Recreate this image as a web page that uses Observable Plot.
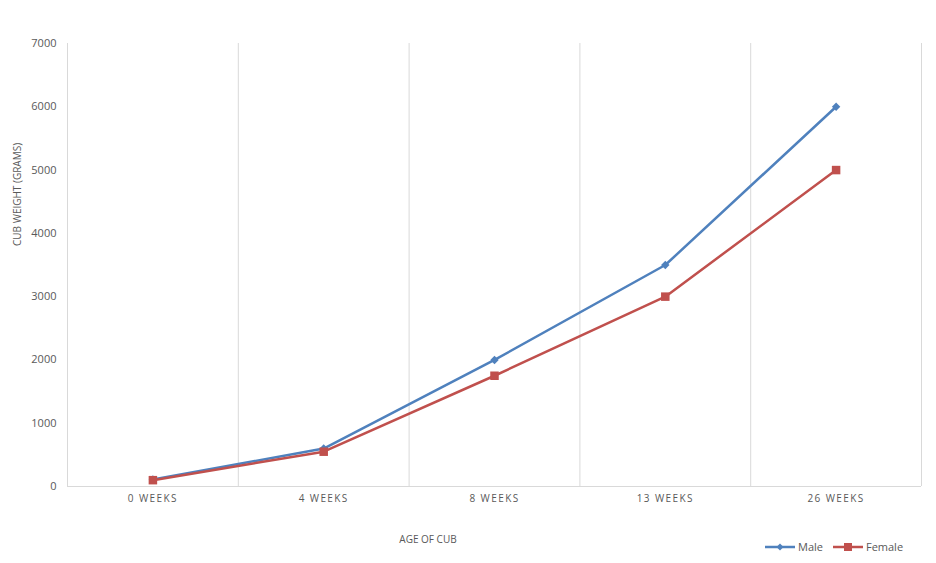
<!DOCTYPE html>
<html>
<head>
<meta charset="utf-8">
<script src="https://cdn.jsdelivr.net/npm/d3@7"></script>
<script src="https://cdn.jsdelivr.net/npm/@observablehq/plot@0.6"></script>
<style>
  body { margin: 0; background: #fff; font-family: "Open Sans", sans-serif; }
  #chart { position: relative; width: 936px; }
  g[aria-label="x-axis tick label"] text { letter-spacing: 1.4px; }
  #below { position: relative; width: 936px; height: 43px; color: #595959; }
  #xtitle { position: absolute; left: 428px; top: 12px; transform: translateX(-50%); font-size: 10px; }
  #legend { position: absolute; left: 765px; top: 19px; display: flex; align-items: center; font-size: 11px; }
  #legend span.item { display: flex; align-items: center; margin-right: 10px; }
  #legend svg { margin-right: 3px; }
</style>
</head>
<body>
<div id="chart"></div>
<div id="below">
  <div id="xtitle">AGE OF CUB</div>
  <div id="legend"></div>
</div>
<script>
const categories = ["0 WEEKS", "4 WEEKS", "8 WEEKS", "13 WEEKS", "26 WEEKS"];
const male = [110, 600, 2000, 3500, 6000];
const female = [100, 550, 1750, 3000, 5000];
const yTicks = [0, 1000, 2000, 3000, 4000, 5000, 6000, 7000];
const seriesNames = ["Male", "Female"];
const seriesColors = ["#4F81BD", "#C0504D"];
const seriesSymbols = ["diamond2", "square"];

const rows = [];
categories.forEach((c, i) => {
  rows.push({series: "Male", i, value: male[i]});
  rows.push({series: "Female", i, value: female[i]});
});
const boundaries = d3.range(categories.length + 1).map(k => k - 0.5);
const gray = "#595959";

const plot = Plot.plot({
  width: 936,
  height: 520,
  marginLeft: 67,
  marginRight: 15,
  marginTop: 43,
  marginBottom: 34,
  style: {fontFamily: "Open Sans, sans-serif", color: gray, background: "#fff"},
  x: {type: "linear", domain: [-0.5, categories.length - 0.5]},
  y: {domain: [0, 7000]},
  color: {domain: seriesNames, range: seriesColors},
  symbol: {domain: seriesNames, range: seriesSymbols},
  marks: [
    Plot.ruleX(boundaries, {stroke: "#d9d9d9", strokeWidth: 1}),
    Plot.ruleY([0], {stroke: "#d9d9d9", strokeWidth: 1}),
    Plot.axisY({ticks: yTicks, tickSize: 0, tickPadding: 11, label: null, fontSize: 11, tickFormat: d => String(d)}),
    Plot.axisX({ticks: d3.range(categories.length), tickFormat: k => categories[k], tickSize: 0, tickPadding: 8, label: null, fontSize: 10}),
    Plot.text(["CUB WEIGHT (GRAMS)"], {frameAnchor: "left", rotate: -90, dx: -50, dy: -19, fontSize: 10, fill: gray}),
    Plot.line(rows, {x: "i", y: "value", z: "series", stroke: "series", strokeWidth: 2.5}),
    Plot.dot(rows.filter(d => d.series === "Male"), {x: "i", y: "value", symbol: "series", fill: "series", r: 3.8}),
    Plot.dot(rows.filter(d => d.series === "Female"), {x: "i", y: "value", symbol: "series", fill: "series", r: 4.8})
  ]
});
document.getElementById("chart").appendChild(plot);

const legend = document.getElementById("legend");
seriesNames.forEach((name, k) => {
  const item = document.createElement("span");
  item.className = "item";
  const sym = seriesSymbols[k] === "square"
    ? `<rect x="11" y="3" width="8" height="8" fill="${seriesColors[k]}"/>`
    : `<path d="M15,3.5L18.5,7L15,10.5L11.5,7Z" fill="${seriesColors[k]}"/>`;
  item.innerHTML = `<svg width="30" height="14"><line x1="0" x2="30" y1="7" y2="7" stroke="${seriesColors[k]}" stroke-width="2.5"/>${sym}</svg><span>${name}</span>`;
  legend.appendChild(item);
});
</script>
</body>
</html>
